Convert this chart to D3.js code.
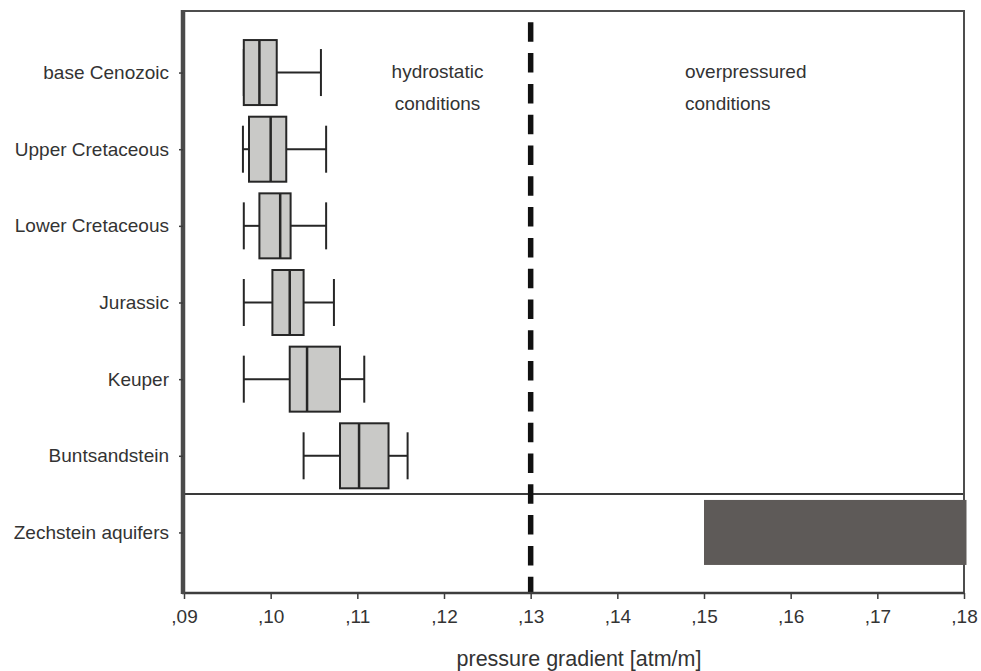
<!DOCTYPE html>
<html>
<head>
<meta charset="utf-8">
<script src="https://cdn.jsdelivr.net/npm/d3@7"></script>
<style>
  html, body { margin: 0; padding: 0; background: #fff; }
  svg { display: block; }
  text { font-family: "Liberation Sans", Arial, sans-serif; fill: #333; }
</style>
</head>
<body>
<svg id="chart" width="981" height="671"></svg>
<script>
// Formation rows, top to bottom
const categories = ["base Cenozoic", "Upper Cretaceous", "Lower Cretaceous", "Jurassic", "Keuper", "Buntsandstein", "Zechstein aquifers"];

// Box-plot statistics for the post-Zechstein formations [atm/m]
const boxCategories = ["base Cenozoic", "Upper Cretaceous", "Lower Cretaceous", "Jurassic", "Keuper", "Buntsandstein"];
const mins    = [0.0969, 0.0968, 0.0969, 0.0969, 0.0969, 0.1038];
const q1s     = [0.0969, 0.0975, 0.0987, 0.1002, 0.1022, 0.1080];
const medians = [0.0987, 0.1000, 0.1011, 0.1022, 0.1042, 0.1102];
const q3s     = [0.1007, 0.1018, 0.1023, 0.1038, 0.1080, 0.1136];
const maxs    = [0.1058, 0.1064, 0.1064, 0.1073, 0.1108, 0.1158];

// Pressure-gradient range of the Zechstein aquifers
const rangeCategory = "Zechstein aquifers";
const rangeValues = [0.15, 0.18];

// Boundary between hydrostatic and overpressured conditions
const threshold = 0.13;

// Axis ticks and labels
const xTicks = [0.09, 0.10, 0.11, 0.12, 0.13, 0.14, 0.15, 0.16, 0.17, 0.18];
const xTickLabels = [",09", ",10", ",11", ",12", ",13", ",14", ",15", ",16", ",17", ",18"];
const xTitle = "pressure gradient [atm/m]";

const svg = d3.select("#chart");
const plotLeft = 184, plotRight = 964, plotTop = 11, plotBottom = 593;

const x = d3.scaleLinear().domain([0.09, 0.18]).range([plotLeft, plotRight]);
const y = d3.scalePoint().domain(categories).range([plotTop + 1, plotBottom]).padding(0.79);

const boxH = 65, capH = 47;

// Separator between box plots and the aquifer range
const sepY = (y("Buntsandstein") + y("Zechstein aquifers")) / 2;
svg.append("line")
  .attr("x1", plotLeft).attr("x2", plotRight)
  .attr("y1", sepY).attr("y2", sepY)
  .attr("stroke", "#3a3a3a").attr("stroke-width", 2);

// Frame: top and right borders
svg.append("path")
  .attr("d", `M${plotLeft},${plotTop}H${x(0.18)}V${plotBottom}`)
  .attr("fill", "none").attr("stroke", "#4d4d4d").attr("stroke-width", 2);

// Box plots
const boxes = boxCategories.map((c, i) => ({ c, min: mins[i], q1: q1s[i], med: medians[i], q3: q3s[i], max: maxs[i] }));
const g = svg.append("g").attr("stroke", "#262626").attr("stroke-width", 2);

boxes.forEach(d => {
  const cy = y(d.c);
  // whiskers
  g.append("line").attr("x1", x(d.min)).attr("x2", x(d.q1)).attr("y1", cy).attr("y2", cy);
  g.append("line").attr("x1", x(d.q3)).attr("x2", x(d.max)).attr("y1", cy).attr("y2", cy);
  // whisker caps
  g.append("line").attr("x1", x(d.min)).attr("x2", x(d.min)).attr("y1", cy - capH / 2).attr("y2", cy + capH / 2);
  g.append("line").attr("x1", x(d.max)).attr("x2", x(d.max)).attr("y1", cy - capH / 2).attr("y2", cy + capH / 2);
  // interquartile box
  g.append("rect")
    .attr("x", x(d.q1)).attr("y", cy - boxH / 2)
    .attr("width", x(d.q3) - x(d.q1)).attr("height", boxH)
    .attr("fill", "#c9c9c7");
  // median
  g.append("line").attr("x1", x(d.med)).attr("x2", x(d.med))
    .attr("y1", cy - boxH / 2).attr("y2", cy + boxH / 2)
    .attr("stroke-width", 2.5);
});

// Zechstein aquifer range bar
svg.append("rect")
  .attr("x", x(rangeValues[0]))
  .attr("y", y(rangeCategory) - boxH / 2)
  .attr("width", x(rangeValues[1]) - x(rangeValues[0]) + 2.5)
  .attr("height", boxH)
  .attr("fill", "#5e5a58");

// Hydrostatic / overpressure boundary
svg.append("line")
  .attr("x1", x(threshold)).attr("x2", x(threshold))
  .attr("y1", plotTop).attr("y2", plotBottom)
  .attr("stroke", "#111").attr("stroke-width", 5.5)
  .attr("stroke-dasharray", "19.5,11.3")
  .attr("stroke-dashoffset", 19.5);

// Region annotations
const fs = 19;
svg.append("text").attr("x", 437.5).attr("y", 78).attr("text-anchor", "middle").style("font-size", fs + "px").text("hydrostatic");
svg.append("text").attr("x", 437.5).attr("y", 110).attr("text-anchor", "middle").style("font-size", fs + "px").text("conditions");
svg.append("text").attr("x", 685).attr("y", 78).style("font-size", fs + "px").text("overpressured");
svg.append("text").attr("x", 685).attr("y", 110).style("font-size", fs + "px").text("conditions");

// X axis
const xAxis = d3.axisBottom(x)
  .tickValues(xTicks)
  .tickFormat((d, i) => xTickLabels[i])
  .tickSize(6).tickSizeOuter(0).tickPadding(11);
const gx = svg.append("g").attr("transform", `translate(0,${plotBottom})`).call(xAxis);
gx.select(".domain").attr("stroke", "#3d3d3d").attr("stroke-width", 2.5)
  .attr("d", `M${plotLeft - 2},0H${plotRight}`);
gx.selectAll(".tick line").attr("stroke", "#3d3d3d").attr("stroke-width", 1.5);
gx.selectAll(".tick text").style("font-size", fs + "px").attr("fill", "#333")
  .style("font-family", '"Liberation Sans", Arial, sans-serif');

// Y axis
const yAxis = d3.axisLeft(y).tickSize(4).tickSizeOuter(0).tickPadding(10);
const gy = svg.append("g").attr("transform", `translate(${plotLeft - 1},0)`).call(yAxis);
gy.select(".domain").attr("stroke", "#4a4a4a").attr("stroke-width", 4.5)
  .attr("d", `M0,${plotTop - 1}V${plotBottom + 1}`);
gy.selectAll(".tick line").attr("stroke", "#3d3d3d").attr("stroke-width", 1.5);
gy.selectAll(".tick text").style("font-size", fs + "px").attr("fill", "#333")
  .style("font-family", '"Liberation Sans", Arial, sans-serif');

// X axis title
svg.append("text")
  .attr("x", 579).attr("y", 666)
  .attr("text-anchor", "middle")
  .style("font-size", "21.5px")
  .text(xTitle);
</script>
</body>
</html>
